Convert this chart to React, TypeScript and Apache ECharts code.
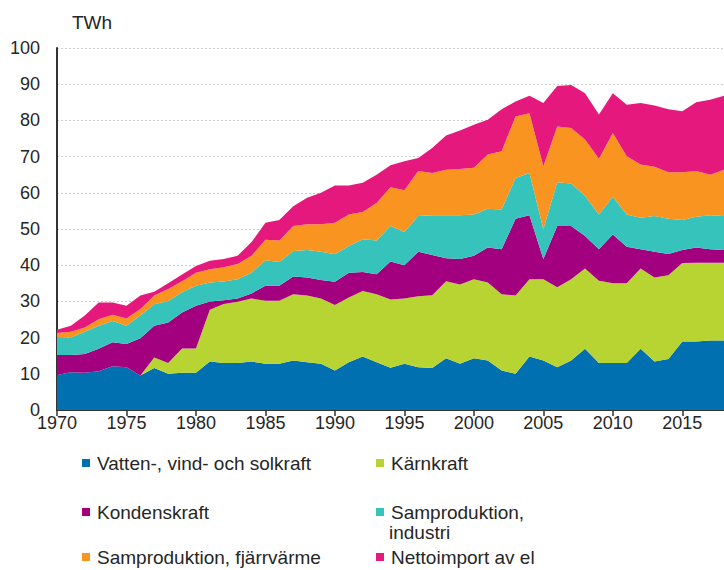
import React, { useEffect, useRef } from 'react';
import * as echarts from 'echarts';

const years: string[] = Array.from({ length: 49 }, (_, i) => String(1970 + i));

const seriesNames = [
  'Vatten-, vind- och solkraft',
  'Kärnkraft',
  'Kondenskraft',
  'Samproduktion, industri',
  'Samproduktion, fjärrvärme',
  'Nettoimport av el',
];

const vatten = [
  9.7, 10.4, 10.3, 10.7, 12.1, 11.8, 9.5, 11.6, 10.0, 10.3,
  10.3, 13.4, 13.0, 13.0, 13.4, 12.8, 12.8, 13.7, 13.2, 12.8,
  10.9, 13.2, 14.8, 13.2, 11.7, 12.8, 11.8, 11.6, 14.3, 12.8,
  14.3, 13.7, 10.9, 10.0, 14.8, 13.7, 11.8, 13.7, 16.9, 13.0,
  13.0, 13.0, 16.9, 13.4, 14.1, 18.9, 18.9, 19.2, 19.2,
];
const karnkraft = [
  0, 0, 0, 0, 0, 0, 0, 2.9, 3.0, 6.7,
  6.7, 14.3, 16.3, 16.9, 17.4, 17.4, 17.4, 18.3, 18.4, 18.0,
  18.1, 17.9, 18.1, 18.8, 18.8, 18.0, 19.6, 20.1, 21.3, 21.9,
  21.8, 21.5, 21.1, 21.6, 21.3, 22.4, 22.1, 22.4, 22.2, 22.7,
  22.0, 22.0, 22.2, 23.2, 23.1, 21.7, 21.8, 21.5, 21.5,
];
const kondenskraft = [
  5.5, 4.8, 5.2, 6.2, 6.6, 6.4, 10.3, 8.8, 11.2, 9.9,
  11.8, 2.3, 1.0, 0.9, 1.4, 4.1, 4.1, 4.9, 5.0, 5.1,
  6.4, 6.8, 5.2, 5.5, 10.5, 9.2, 12.3, 11.1, 6.3, 7.0,
  6.5, 9.7, 12.4, 21.2, 17.7, 5.6, 16.9, 14.7, 9.0, 8.7,
  13.5, 10.1, 5.3, 7.1, 5.9, 3.6, 4.2, 3.7, 3.5,
];
const industri = [
  5.0, 4.8, 6.1, 6.4, 5.9, 5.1, 6.3, 5.9, 5.9, 5.6,
  5.5, 5.2, 5.2, 5.3, 5.7, 7.1, 6.6, 7.0, 7.6, 7.8,
  7.6, 7.4, 9.1, 9.3, 9.8, 9.2, 9.9, 11.0, 11.9, 12.1,
  11.4, 10.7, 11.0, 11.3, 11.7, 8.2, 12.1, 11.8, 11.0, 9.6,
  10.4, 8.9, 8.7, 9.9, 9.7, 8.3, 8.5, 9.4, 9.4,
];
const fjarrvarme = [
  1.1, 1.6, 1.2, 1.8, 1.7, 2.0, 1.8, 2.4, 3.3, 3.1,
  3.6, 3.7, 3.9, 4.2, 4.7, 5.6, 5.9, 6.9, 7.1, 7.6,
  8.7, 8.7, 7.5, 10.4, 10.7, 11.5, 12.4, 11.7, 12.6, 12.8,
  12.9, 15.0, 16.1, 17.0, 16.5, 17.4, 15.4, 15.3, 15.6, 15.4,
  17.6, 16.1, 14.7, 13.6, 12.9, 13.2, 12.6, 11.2, 12.8,
];
const nettoimport = [
  0.9, 1.7, 3.3, 4.6, 3.4, 3.5, 3.7, 1.1, 1.6, 1.8,
  1.9, 2.3, 2.3, 2.3, 3.8, 4.7, 5.7, 5.5, 7.3, 8.7,
  10.3, 8.0, 8.1, 7.8, 6.1, 8.0, 3.6, 6.9, 9.4, 10.6,
  11.9, 9.6, 11.6, 4.1, 4.8, 17.5, 11.2, 11.9, 12.8, 12.2,
  11.0, 14.2, 17.0, 16.9, 17.4, 16.8, 19.0, 20.7, 20.4,
];

const seriesData = [vatten, karnkraft, kondenskraft, industri, fjarrvarme, nettoimport];
const colors = ['#0070b0', '#b8d433', '#a3007f', '#35c3bc', '#f8941f', '#e5187d'];

const FONT = 'Liberation Sans, Arial, sans-serif';
const TEXT = '#262626';

export default function App() {
  const ref = useRef<HTMLDivElement>(null);

  useEffect(() => {
    if (!ref.current) return;
    const chart = echarts.init(ref.current, undefined, { renderer: 'svg' });

    const legendBase = {
      orient: 'horizontal',
      icon: 'rect',
      itemWidth: 8,
      itemHeight: 8,
      padding: 0,
      selectedMode: false,
      textStyle: {
        fontFamily: FONT,
        fontSize: 19,
        color: TEXT,
        lineHeight: 20,
        padding: [0, 0, 0, 2],
      },
    };

    const legendPos: Array<[number, number, number]> = [
      [0, 82, 453],
      [1, 376, 453],
      [2, 82, 502],
      [3, 376, 502],
      [4, 82, 547],
      [5, 376, 547],
    ];

    const legends = legendPos.map(([i, left, top]) => {
      const l: any = { ...legendBase, left, top, data: [seriesNames[i]] };
      if (i === 3) {
        l.formatter = () => 'Samproduktion,';
      }
      return l;
    });

    chart.setOption({
      animation: false,
      color: colors,
      textStyle: { fontFamily: FONT },
      grid: { left: 57, right: -3, top: 48, bottom: 160, containLabel: false },
      legend: legends,
      xAxis: {
        type: 'category',
        data: years,
        boundaryGap: false,
        axisLine: { show: true, lineStyle: { color: '#333', width: 2 } },
        axisTick: { show: true, interval: 4, length: 6, lineStyle: { color: '#333', width: 1.5 } },
        axisLabel: { interval: 4, fontSize: 18, lineHeight: 14, color: TEXT, margin: 6, fontFamily: FONT },
        splitLine: { show: false },
      },
      yAxis: {
        type: 'value',
        min: 0,
        max: 100,
        interval: 10,
        axisLine: { show: true, lineStyle: { color: '#333', width: 2 } },
        axisTick: { show: false },
        axisLabel: { fontSize: 18, lineHeight: 13, color: TEXT, margin: 17, fontFamily: FONT },
        splitLine: { show: true, lineStyle: { color: '#cccccc', type: [2, 2], width: 1 } },
      },
      graphic: [
        {
          type: 'text',
          left: 72,
          top: 13,
          style: { text: 'TWh', fontSize: 19, fontFamily: FONT, fill: TEXT },
        },
        {
          type: 'text',
          left: 389,
          top: 522,
          style: { text: 'industri', fontSize: 19, lineHeight: 20, fontFamily: FONT, fill: TEXT },
        },
      ],
      series: seriesNames.map((name, i) => ({
        name,
        type: 'line',
        stack: 'total',
        data: seriesData[i],
        symbol: 'none',
        lineStyle: { width: 0 },
        areaStyle: { color: colors[i], opacity: 1 },
        itemStyle: { color: colors[i] },
        emphasis: { disabled: true },
      })),
    });

    return () => chart.dispose();
  }, []);

  return (
    <div
      ref={ref}
      style={{ position: 'absolute', left: 0, top: 0, width: 724, height: 570, background: '#fff' }}
    />
  );
}
